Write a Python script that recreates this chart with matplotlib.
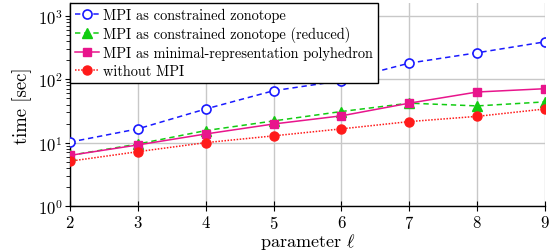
import matplotlib
matplotlib.use("Agg")
import matplotlib.pyplot as plt
from matplotlib.ticker import LogLocator, NullFormatter

plt.rcParams['font.family'] = 'serif'
plt.rcParams['font.serif'] = ['cmr10', 'DejaVu Serif']
plt.rcParams['mathtext.fontset'] = 'cm'
plt.rcParams['axes.formatter.use_mathtext'] = True

params = [2, 3, 4, 5, 6, 7, 8, 9]
mpi_cz = [10.2, 16.5, 34, 66, 95, 180, 262, 390]
mpi_cz_red = [6.3, 9.5, 15.5, 22, 31, 42, 38, 44]
mpi_poly = [6.3, 9.2, 13.7, 19.7, 26.5, 42, 63, 71]
no_mpi = [5.1, 7.2, 10, 12.8, 16.5, 21.5, 26, 34]

labels = ["MPI as constrained zonotope",
          "MPI as constrained zonotope (reduced)",
          "MPI as minimal-representation polyhedron",
          "without MPI"]

fig = plt.figure(figsize=(5.49, 2.51), dpi=100)
ax = fig.add_axes([70/549, 1-207/251, 475/549, 203/251])

ax.plot(params, mpi_cz, color='#1a1aff', ls=(0, (3.5, 2.5)), lw=1.1, marker='o',
        mfc='white', mec='#1a1aff', mew=1.2, ms=6.5, label=labels[0], zorder=3)
ax.plot(params, mpi_cz_red, color='#11cc11', ls=(0, (3.5, 2.5)), lw=1.1, marker='^',
        mfc='#11cc11', mec='#11cc11', ms=7, label=labels[1], zorder=3)
ax.plot(params, mpi_poly, color='#e8158c', ls='-', lw=1.1, marker='s',
        mfc='#e8158c', mec='#e8158c', ms=6, label=labels[2], zorder=3)
ax.plot(params, no_mpi, color='#ff1a1a', ls=(0, (1, 1)), lw=1.1, marker='o',
        mfc='#ff1a1a', mec='#ff1a1a', ms=6.5, label=labels[3], zorder=3)

ax.set_yscale('log')
ax.set_xlim(2, 9)
ax.set_ylim(1, 1600)
ax.set_xticks(params)
ax.yaxis.set_major_locator(LogLocator(base=10, numticks=10))
ax.yaxis.set_minor_locator(LogLocator(base=10, subs=range(2, 10), numticks=20))
ax.yaxis.set_minor_formatter(NullFormatter())
ax.grid(True, which='major', color='#c8c8c8', lw=1.0)
ax.set_axisbelow(True)

for s in ['top', 'right']:
    ax.spines[s].set_visible(False)
ax.spines['left'].set_linewidth(1.0)
ax.spines['bottom'].set_linewidth(1.0)
ax.tick_params(which='major', direction='inout', length=7, width=0.8, labelsize=12, pad=2)
ax.tick_params(which='minor', direction='out', length=3, width=0.6)

ax.set_xlabel(r"parameter $\ell$", fontsize=13, labelpad=0)
ax.set_ylabel("time [sec]", fontsize=13.5, labelpad=4)

leg = ax.legend(loc='upper left', bbox_to_anchor=(0, 1), fontsize=10.4, frameon=True,
                fancybox=False, edgecolor='black', framealpha=1, borderaxespad=0,
                handlelength=1.65, handletextpad=0.3, labelspacing=0.27, borderpad=0.35,
                numpoints=1)
leg.get_frame().set_linewidth(1.0)

fig.savefig("out.png", dpi=100)
